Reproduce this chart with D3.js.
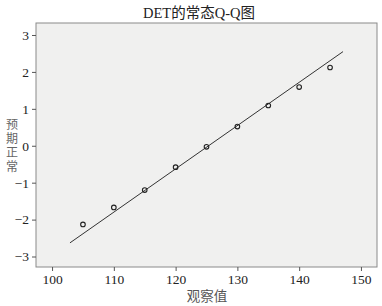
<!DOCTYPE html>
<html>
<head>
<meta charset="utf-8">
<script src="https://cdn.jsdelivr.net/npm/d3@7"></script>
<style>
  body { margin: 0; background: #fff; }
  text { font-family: "Liberation Serif", "Noto Sans CJK SC", serif; }
</style>
</head>
<body>
<svg id="chart" width="382" height="306"></svg>
<script>
// observed values and expected normal values
var observed = [105, 110, 115, 120, 125, 130, 135, 140, 145];
var expected = [-2.13, -1.67, -1.2, -0.58, -0.03, 0.52, 1.09, 1.59, 2.12];
// reference line end points
var lineX = [102.9, 147.1];
var lineY = [-2.63, 2.55];
var xTicks = [100, 110, 120, 130, 140, 150];
var yTicks = [-3, -2, -1, 0, 1, 2, 3];

(function () {
    var svg = d3.select("#chart");
    var m = { left: 36, right: 377, top: 23, bottom: 267 };

    var x = d3.scaleLinear().domain([97.4, 152.6]).range([m.left, m.right]);
    var y = d3.scaleLinear().domain([-3.284, 3.325]).range([m.bottom, m.top]);

    svg.append("rect")
        .attr("x", m.left).attr("y", m.top)
        .attr("width", m.right - m.left).attr("height", m.bottom - m.top)
        .attr("fill", "#f0f0ef")
        .attr("stroke", "#8a8a8a")
        .attr("stroke-width", 1);

    var xAxis = svg.append("g")
        .attr("transform", "translate(0," + m.bottom + ")")
        .call(d3.axisBottom(x).tickValues(xTicks).tickSize(4).tickPadding(3));
    var yAxis = svg.append("g")
        .attr("transform", "translate(" + m.left + ",0)")
        .call(d3.axisLeft(y).tickValues(yTicks).tickSize(4).tickPadding(3)
            .tickFormat(function(d) { return d < 0 ? "\u2212" + (-d) : d; }));

    [xAxis, yAxis].forEach(function(g) {
        g.select(".domain").remove();
        g.selectAll(".tick line").attr("stroke", "#555");
        g.selectAll(".tick text")
            .attr("fill", "#222")
            .style("font-size", "13.5px")
            .style("font-family", "'Liberation Serif', serif");
    });

    svg.append("line")
        .attr("x1", x(lineX[0])).attr("y1", y(lineY[0]))
        .attr("x2", x(lineX[1])).attr("y2", y(lineY[1]))
        .attr("stroke", "#333")
        .attr("stroke-width", 1);

    svg.selectAll("circle.pt")
        .data(observed)
        .enter().append("circle")
        .attr("class", "pt")
        .attr("cx", function(d) { return x(d); })
        .attr("cy", function(d, i) { return y(expected[i]); })
        .attr("r", 2.3)
        .attr("fill", "none")
        .attr("stroke", "#222")
        .attr("stroke-width", 1.1);

    svg.append("text")
        .attr("x", 199).attr("y", 18)
        .attr("text-anchor", "middle")
        .style("font-size", "14.5px")
        .attr("fill", "#222")
        .text("DET的常态Q-Q图");

    svg.append("text")
        .attr("x", 207).attr("y", 301)
        .attr("text-anchor", "middle")
        .style("font-size", "13.5px")
        .attr("fill", "#555")
        .text("观察值");

    var yl = svg.append("text")
        .attr("text-anchor", "middle")
        .style("font-size", "12px")
        .attr("fill", "#666");
    "预期正常".split("").forEach(function(c, i) {
        yl.append("tspan")
            .attr("x", 12)
            .attr("y", 129 + i * 14)
            .text(c);
    });
})();
</script>
</body>
</html>
